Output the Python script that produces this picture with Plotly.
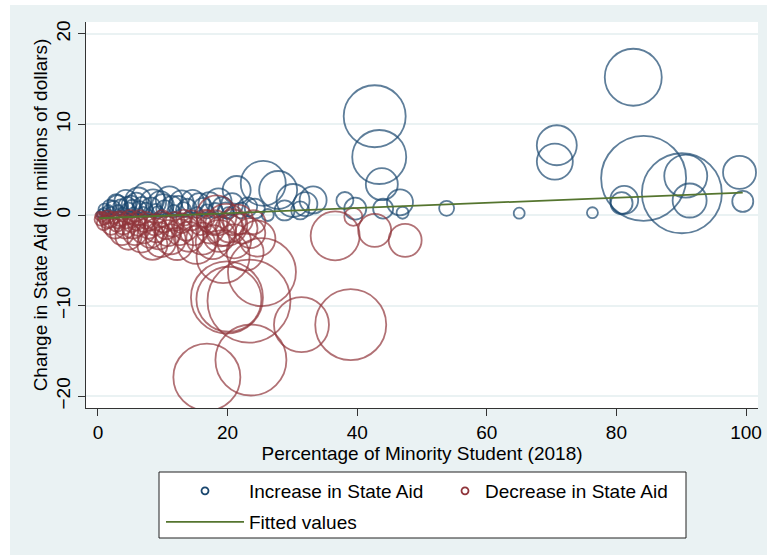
import plotly.graph_objects as go

# Districts with an increase in state aid: % minority students (2018),
# change in state aid (millions of dollars), enrollment (thousands)
inc_minority = [0.2, 0.5, 0.9, 1.3, 1.6, 2.0, 2.4, 2.8, 3.1, 3.5, 4.3, 4.7, 5.1, 5.5, 5.9, 6.4,
                7.0, 7.7, 8.2, 8.9, 9.6, 10.3, 11.0, 11.7, 12.4, 13.2, 14.6, 15.3, 16.2, 17.2,
                18.1, 19.2, 20.1, 21.4, 22.1, 23.1, 24.2, 25.5, 26.2, 27.8, 28.8, 30.1, 31.2,
                32.0, 33.2, 38.1, 39.7, 42.7, 43.4, 43.8, 44.0, 46.6, 47.0, 53.8, 65.0, 70.8,
                70.5, 76.3, 80.8, 81.2, 82.6, 84.2, 90.1, 90.7, 91.3, 99.0, 99.5,
                1.0, 1.8, 3.0, 3.8, 4.5, 5.3, 6.2, 6.8, 7.4, 8.5, 9.2, 10.0, 11.4, 12.9, 13.8,
                15.6, 16.8, 18.6, 19.7, 20.7]
inc_change = [0.05, 0.15, 0.3, 0.1, 0.5, 0.35, 0.8, 1.3, 0.5, 0.9, 1.5, 0.6, 1.1, 0.3, 1.3, 0.7,
              0.3, 1.8, 0.9, 0.5, 1.3, 0.7, 1.66, 0.4, 1.0, 0.6, 1.5, 0.3, 0.9, 1.3,
              0.5, 0.9, 0.2, 2.76, 0.5, 0.9, 0.7, 3.5, 0.0, 2.76, 0.5, 1.6, 0.5,
              1.2, 1.66, 1.6, 0.7, 10.9, 6.4, 3.4, 0.7, 1.4, 0.25, 0.74, 0.2, 7.7,
              5.9, 0.25, 1.3, 1.66, 15.2, 4.05, 2.4, 4.3, 1.6, 4.7, 1.5,
              0.6, 0.9, 1.1, 0.3, 1.0, 0.8, 1.6, 1.0, 0.6, 1.4, 0.3, 1.1, 1.0, 1.4, 0.8,
              1.2, 0.4, 1.5, 0.5, 1.2]
inc_enroll = [0.50, 0.89, 1.12, 0.89, 1.67, 1.38, 2.71, 4.48, 1.67, 3.11, 7.32, 2.71, 5.00, 1.38,
              6.10, 3.11, 1.67, 15.07, 5.00, 2.34, 7.97, 4.00, 10.09, 2.34, 5.54, 3.11, 7.32,
              1.67, 4.48, 6.70, 3.11, 5.54, 1.99, 10.85, 3.54, 5.00, 5.54, 28.03, 1.99, 19.99,
              5.54, 15.07, 4.48, 7.97, 10.09, 4.00, 6.70, 53.20, 40.36, 14.17, 5.54, 9.36,
              1.99, 3.11, 1.67, 22.15, 17.94, 1.67, 6.70, 10.85, 44.97, 100.0, 88.58, 25.59,
              16.00, 15.07, 6.10,
              1.99, 2.71, 5.54, 1.38, 4.48, 3.54, 9.36, 4.48, 2.71, 9.36, 1.99, 6.70, 5.54,
              7.97, 4.48, 6.70, 2.71, 9.36, 3.54, 6.70]

# Districts with a decrease in state aid
dec_minority = [0.2, 0.6, 1.0, 1.5, 1.9, 2.4, 2.9, 3.4, 3.9, 4.4, 4.9, 5.4, 5.9, 6.4, 7.0, 7.5,
                8.4, 8.8, 9.4, 9.9, 10.5, 11.2, 11.9, 12.6, 13.3, 14.0, 15.2, 15.8, 16.6, 17.3,
                18.1, 18.7, 19.3, 18.3, 20.3, 21.0, 19.8, 21.6, 22.7, 23.5, 25.3, 19.9, 20.2,
                23.3, 16.8, 23.6, 31.4, 39.0, 36.6, 39.4, 42.7, 47.4,
                0.4, 0.9, 1.4, 2.0, 2.6, 3.1, 3.7, 4.2, 4.7, 5.2, 5.7, 6.2, 6.7, 7.2, 7.8, 8.1,
                9.0, 9.7, 10.2, 10.8, 11.5, 12.2, 12.9, 13.6, 14.4, 14.8, 16.1, 17.0, 17.7,
                19.0, 20.8, 22.3, 24.0, 24.6]
dec_change = [-0.1, -0.2, -0.4, -0.2, -0.6, -0.3, -0.9, -0.4, -1.1, -0.6, -0.2, -1.4, -0.7, -0.3,
              -1.8, -0.6, -3.3, -1.1, -2.3, -0.4, -1.4, -2.7, -0.7, -1.9, -0.3, -2.4, -3.3,
              -1.0, -0.4, -1.6, -0.8, -2.3, -4.6, -0.05, -1.5, -2.9, -1.1, -0.5, -4.1, -2.0,
              -6.3, -9.1, -9.3, -9.5, -17.9, -16.0, -12.1, -12.1, -2.3, -0.2, -1.7, -2.8,
              -0.5, -0.9, -0.7, -1.2, -1.5, -0.6, -2.0, -1.5, -2.4, -0.9, -2.0, -1.2, -2.6,
              -0.9, -1.4, -2.2, -1.7, -3.0, -0.8, -2.0, -1.2, -3.2, -0.9, -1.5, -0.6, -1.8,
              -2.6, -0.7, -3.0, -1.8, -0.8, -1.5, -0.8, -2.6]
dec_enroll = [0.89, 1.38, 1.99, 2.34, 3.11, 1.99, 4.00, 3.11, 5.00, 3.54, 2.71, 6.70, 4.48, 3.11,
              7.97, 4.00, 12.46, 6.10, 10.09, 4.00, 7.32, 12.46, 5.00, 9.36, 3.54, 12.46,
              19.99, 6.70, 4.48, 10.85, 7.97, 14.17, 38.88, 22.15, 10.85, 16.00, 24.42, 12.46,
              18.95, 12.46, 64.00, 71.75, 58.48, 95.35, 62.13, 69.77, 41.87, 69.77, 33.23,
              4.48, 15.07, 15.07,
              1.99, 2.71, 2.71, 4.48, 5.54, 3.54, 7.97, 5.54, 9.36, 4.48, 7.97, 5.54, 10.85,
              4.48, 6.70, 9.36, 7.97, 12.46, 5.54, 9.36, 6.70, 14.17, 5.54, 7.97, 5.54, 10.85,
              14.17, 6.70, 16.00, 12.46, 9.36, 12.46, 7.97, 17.94]

# Linear fit of change in aid on % minority
fit_minority = [0.2, 99.5]
fit_change = [-0.36, 2.46]

x_ticks = [0, 20, 40, 60, 80, 100]
y_ticks = [-20, -10, 0, 10, 20]

NAVY = "#1a476f"
MAROON = "#90353b"
GREEN = "#55752f"
REGION = "#eaf2f3"
FONT = "Liberation Sans, Arial, sans-serif"

W, H = 767, 555
ML, MR, MT, MB = 86, 9, 22, 147
PW, PH = W - ML - MR, H - MT - MB


def px_x(p):
    return (p - ML) / PW


def px_y(p):
    return (MT + PH - p) / PH


# bubble area proportional to enrollment
bubble = dict(sizemode="area", sizeref=2 / 72.25, symbol="circle-open")

fig = go.Figure()
fig.add_trace(go.Scatter(
    x=inc_minority, y=inc_change, mode="markers", showlegend=False,
    legendgroup="inc", hoverinfo="x+y",
    marker=dict(size=inc_enroll, color=NAVY, line=dict(width=1.8, color=NAVY), **bubble)))
fig.add_trace(go.Scatter(
    x=dec_minority, y=dec_change, mode="markers", showlegend=False,
    legendgroup="dec", hoverinfo="x+y",
    marker=dict(size=dec_enroll, color=MAROON, line=dict(width=1.8, color=MAROON), **bubble)))
fig.add_trace(go.Scatter(
    x=fit_minority, y=fit_change, mode="lines", name="Fitted values",
    line=dict(color=GREEN, width=1.8), legend="legend3"))

# legend entries for the bubble series
fig.add_trace(go.Scatter(
    x=[None], y=[None], mode="markers", name="Increase in State Aid", legendgroup="inc",
    marker=dict(size=7, symbol="circle-open", color=NAVY, line=dict(width=1.8, color=NAVY)),
    legend="legend"))
fig.add_trace(go.Scatter(
    x=[None], y=[None], mode="markers", name="Decrease in State Aid", legendgroup="dec",
    marker=dict(size=7, symbol="circle-open", color=MAROON, line=dict(width=1.8, color=MAROON)),
    legend="legend2"))

legend_common = dict(
    orientation="v", xanchor="left", yanchor="top", bgcolor="rgba(0,0,0,0)",
    borderwidth=0, font=dict(family=FONT, size=19, color="#000"), tracegroupgap=0)

fig.update_layout(
    width=W, height=H,
    margin=dict(l=ML, r=MR, t=MT, b=MB, autoexpand=False),
    paper_bgcolor=REGION, plot_bgcolor="white",
    font=dict(family=FONT, size=19, color="#000"),
    legend=dict(x=px_x(161), y=px_y(472), itemwidth=78, **legend_common),
    legend2=dict(x=px_x(445), y=px_y(472), itemwidth=30, **legend_common),
    legend3=dict(x=px_x(161), y=px_y(503), itemwidth=78, **legend_common),
    shapes=[
        # white margin strips around the graph region
        dict(type="rect", xref="paper", yref="paper", layer="below",
             x0=px_x(0), x1=px_x(10), y0=px_y(H), y1=px_y(0),
             fillcolor="white", line=dict(width=0)),
        dict(type="rect", xref="paper", yref="paper", layer="below",
             x0=px_x(0), x1=px_x(W), y0=px_y(5), y1=px_y(0),
             fillcolor="white", line=dict(width=0)),
        # legend frame
        dict(type="rect", xref="paper", yref="paper", layer="below",
             x0=px_x(159), x1=px_x(686), y0=px_y(538), y1=px_y(472),
             fillcolor="white", line=dict(color="#222", width=1)),
    ],
)

fig.update_xaxes(
    range=[-1.85, 101.85], tickvals=x_ticks, ticks="outside", ticklen=7, tickwidth=1,
    tickcolor="#333", showline=True, linecolor="#333", linewidth=1, showgrid=False,
    zeroline=False, automargin=False,
    tickfont=dict(family=FONT, size=19, color="#000"),
    title=dict(text="Percentage of Minority Student (2018)", standoff=0,
               font=dict(family=FONT, size=19, color="#000")))
fig.update_yaxes(
    range=[-21.3, 21.3], tickvals=y_ticks, tickangle=-90, ticks="outside", ticklen=7,
    tickwidth=1, tickcolor="#333", showline=True, linecolor="#333", linewidth=1,
    showgrid=True, gridcolor=REGION, gridwidth=1.5, zeroline=False, automargin=False,
    tickfont=dict(family=FONT, size=19, color="#000"),
    title=dict(text="Change in State Aid (In millions of dollars)", standoff=0,
               font=dict(family=FONT, size=19, color="#000")))

fig.write_html("out.html")
